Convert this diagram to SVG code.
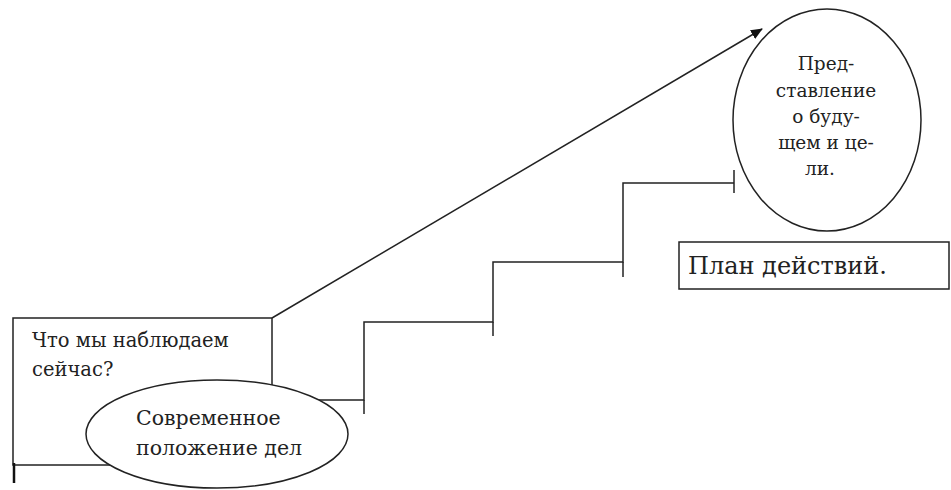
<svg xmlns="http://www.w3.org/2000/svg" width="951" height="490" viewBox="0 0 951 490">
<style>
.s{fill:none;stroke:#222;stroke-width:1.5}
.n{fill:#fff;stroke:#222;stroke-width:1.5}
.t{font-family:'DejaVu Serif',serif;fill:#222}
</style>
<defs>
<marker id="ah" markerWidth="12" markerHeight="10" refX="11" refY="5" orient="auto" markerUnits="userSpaceOnUse">
<path d="M0,0 L12,5 L0,10 Z" fill="#111"/>
</marker>
</defs>
<rect width="951" height="490" fill="#fff"/>
<g id="now">
<rect class="n" x="13" y="318" width="259" height="147"/>
<text class="t" font-size="19.5"><tspan x="32" y="347">Что мы наблюдаем</tspan><tspan x="32" y="376">сейчас?</tspan></text>
</g>
<g id="connectors">
<line class="s" x1="272" y1="318" x2="762" y2="29" marker-end="url(#ah)"/>
<polyline class="s" points="300,400 364,400 364,322 493,322 493,262 623,262 623,183 734,183"/>
<line class="s" x1="364" y1="400" x2="364" y2="414"/>
<line class="s" x1="493" y1="322" x2="493" y2="336"/>
<line class="s" x1="623" y1="262" x2="623" y2="277"/>
<line class="s" x1="734" y1="170" x2="734" y2="193"/>
<line x1="14" y1="463" x2="14" y2="483" stroke="#111" stroke-width="2.5"/>
</g>
<g id="current">
<ellipse class="n" cx="217" cy="434" rx="131" ry="54"/>
<text class="t" font-size="20.5"><tspan x="136" y="425">Современное</tspan><tspan x="136" y="455">положение дел</tspan></text>
</g>
<g id="future">
<ellipse class="n" cx="827" cy="120" rx="94" ry="111"/>
<text class="t" font-size="18.5" text-anchor="middle"><tspan x="826" y="70">Пред-</tspan><tspan x="826" y="97">ставление</tspan><tspan x="826" y="123">о буду-</tspan><tspan x="826" y="149">щем и це-</tspan><tspan x="820" y="175">ли.</tspan></text>
</g>
<g id="plan">
<rect class="n" x="679" y="242" width="270" height="47"/>
<text class="t" font-size="24" x="688" y="274">План действий.</text>
</g>
</svg>
